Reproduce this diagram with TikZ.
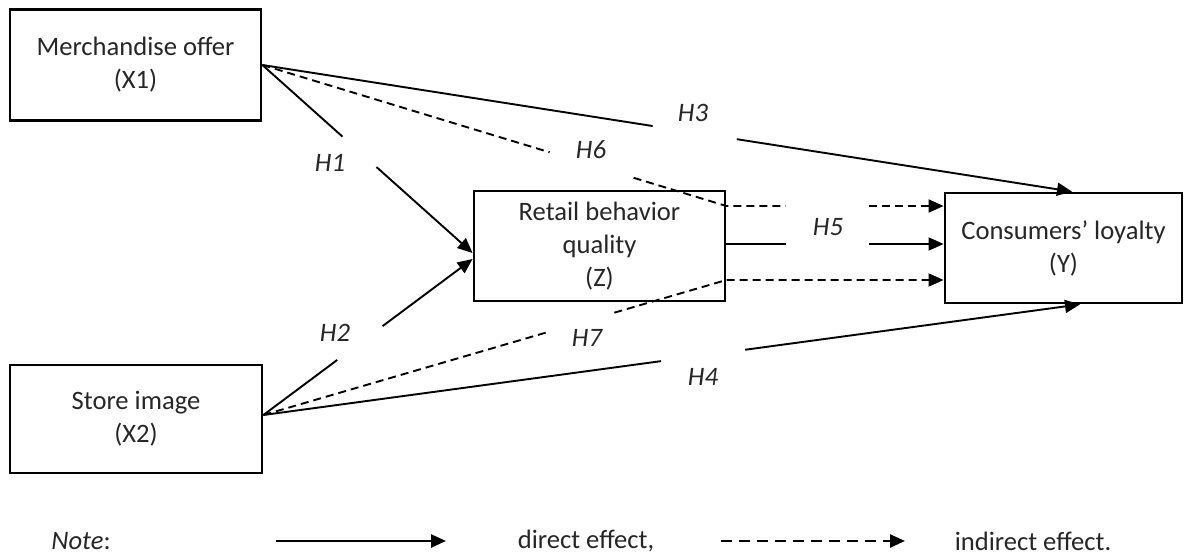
\documentclass[tikz,border=0pt]{standalone}
\usepackage{fontspec}
\setmainfont{Carlito}
\usetikzlibrary{arrows.meta,calc}
\begin{document}
\begin{tikzpicture}[x=0.5pt,y=-0.5pt,
  box/.style={draw, line width=1.4pt, align=center, inner sep=0pt, font=\fontsize{13.3}{16.5}\selectfont, text=black!85},
  conn/.style={line width=0.95pt},
  lconn/.style={line width=1.25pt},
  tip/.style={-{Triangle[length=7.5pt,width=6.5pt]}},
  dsh/.style={dash pattern=on 4pt off 2.5pt},
  ldsh/.style={dash pattern=on 5.5pt off 3.5pt},
  hlab/.style={font=\fontsize{13.3}{16}\selectfont\itshape, text=black!85},
  ltext/.style={font=\fontsize{13.3}{16}\selectfont, text=black!85},
]
\useasboundingbox (0,0) rectangle (1190,556);

% boxes
\node[box, minimum width=125.5pt, minimum height=55.5pt] (x1) at (135.5,65) {Merchandise offer\\(X1)};
\node[box, minimum width=126pt, minimum height=54pt] (x2) at (136,419) {Store image\\(X2)};
\node[box, minimum width=125.5pt, minimum height=55pt] (z) at (599.5,246) {Retail behavior\\quality\\(Z)};
\node[box, minimum width=118.5pt, minimum height=55pt] (y) at (1063.5,248) {Consumers’ loyalty\\(Y)};

% anchor points
\coordinate (o1) at (x1.east);
\coordinate (o2) at ([yshift=2pt]x2.east);
\coordinate (zin1) at ([yshift=-3.5pt]z.west);
\coordinate (zin2) at ([yshift=-6.5pt]z.west);
\coordinate (yin3) at ([xshift=4.25pt]y.north);
\coordinate (yin4) at ([xshift=8.25pt]y.south);
\coordinate (z6) at ([yshift=20pt]z.east);
\coordinate (z5) at ([yshift=1pt]z.east);
\coordinate (z7) at ([yshift=-17pt]z.east);

% H1
\draw[conn] (o1) -- ($(o1)!0.381!(zin1)$);
\draw[conn,tip] ($(o1)!0.543!(zin1)$) -- (zin1);
% H2
\draw[conn] (o2) -- ($(o2)!0.353!(zin2)$);
\draw[conn,tip] ($(o2)!0.570!(zin2)$) -- (zin2);
% H3
\draw[conn] (o1) -- ($(o1)!0.482!(yin3)$);
\draw[conn,tip] ($(o1)!0.586!(yin3)$) -- (yin3);
% H4
\draw[conn] (o2) -- ($(o2)!0.487!(yin4)$);
\draw[conn,tip] ($(o2)!0.590!(yin4)$) -- (yin4);
% H5
\draw[conn] (z5) -- ($(z5)!0.273!(z5 -| y.west)$);
\draw[conn,tip] ($(z5)!0.655!(z5 -| y.west)$) -- (z5 -| y.west);
% H6
\draw[conn,dsh] (o1) -- ($(o1)!0.619!(z6)$);
\draw[conn,dsh] ($(o1)!0.80!(z6)$) -- (z6) -- ($(z6)!0.273!(z6 -| y.west)$);
\draw[conn,dsh,tip] ($(z6)!0.655!(z6 -| y.west)$) -- (z6 -| y.west);
% H7
\draw[conn,dsh] (o2) -- ($(o2)!0.613!(z7)$);
\draw[conn,dsh,tip] ($(o2)!0.758!(z7)$) -- (z7) -- (z7 -| y.west);

% labels
\node[hlab] (h1) at (330,163) {H1};
\node[hlab] (h2) at (335,333) {H2};
\node[hlab] (h3) at (693,113) {H3};
\node[hlab] (h4) at (703,377) {H4};
\node[hlab] (h5) at (828,227) {H5};
\node[hlab] (h6) at (591,150) {H6};
\node[hlab] (h7) at (587,338) {H7};

% legend
\node[ltext] (note) at (81,541) {\textit{Note}:};
\coordinate (l1s) at (276,541);
\coordinate (l1e) at (446,541);
\draw[lconn,tip] (l1s) -- (l1e);
\node[ltext] (direct) at (586,541) {direct effect,};
\coordinate (l2s) at (721,541);
\coordinate (l2e) at (905,541);
\draw[lconn,ldsh,tip] (l2s) -- (l2e);
\node[ltext] (indirect) at (1033,541) {indirect effect.};
\end{tikzpicture}
\end{document}
